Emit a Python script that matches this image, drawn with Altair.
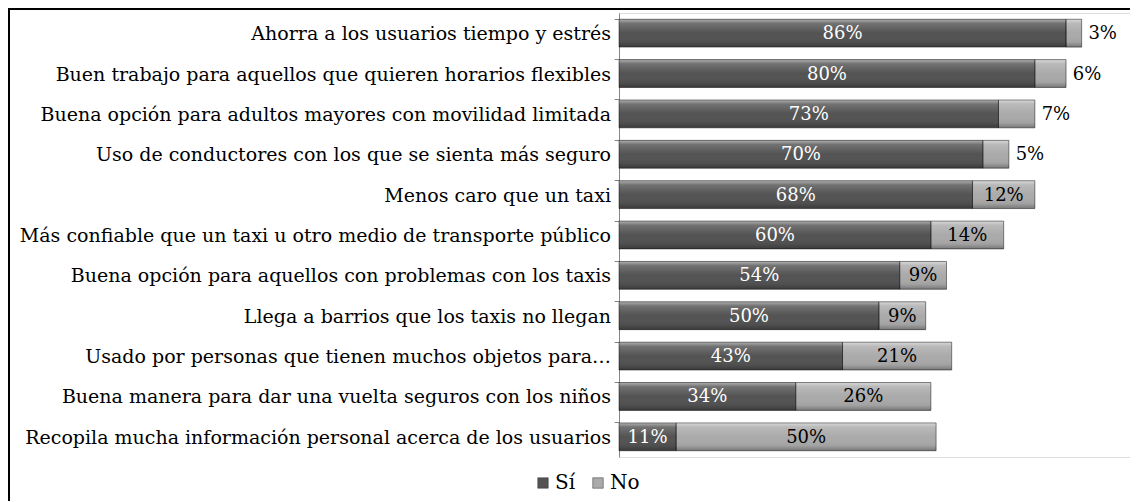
import altair as alt
import pandas as pd

categories = [
    "Ahorra a los usuarios tiempo y estrés",
    "Buen trabajo para aquellos que quieren horarios flexibles",
    "Buena opción para adultos mayores con movilidad limitada",
    "Uso de conductores con los que se sienta más seguro",
    "Menos caro que un taxi",
    "Más confiable que un taxi u otro medio de transporte público",
    "Buena opción para aquellos con problemas con los taxis",
    "Llega a barrios que los taxis no llegan",
    "Usado por personas que tienen muchos objetos para…",
    "Buena manera para dar una vuelta seguros con los niños",
    "Recopila mucha información personal acerca de los usuarios",
]
si_values = [86, 80, 73, 70, 68, 60, 54, 50, 43, 34, 11]
no_values = [3, 6, 7, 5, 12, 14, 9, 9, 21, 26, 50]
series_names = ["Sí", "No"]
series_colors = ["#535353", "#aaaaaa"]

rows = []
for c, s, n in zip(categories, si_values, no_values):
    rows.append(dict(cat=c, serie="Sí", value=s, start=0, end=s, mid=s / 2,
                     label=f"{s}%", outside=False, lx=s + 1.3))
    rows.append(dict(cat=c, serie="No", value=n, start=s, end=s + n, mid=s + n / 2,
                     label=f"{n}%", outside=n < 9, lx=s + n + 1.3))
df = pd.DataFrame(rows)

FONT = "DejaVu Serif"
W, H = 511, 444

yenc = alt.Y("cat:N", sort=categories, title=None,
             scale=alt.Scale(paddingInner=0.31, paddingOuter=0.155),
             axis=alt.Axis(labels=False, ticks=True, bandPosition=0, tickSize=5,
                           domainColor="#868686", tickColor="#868686",
                           domainWidth=1, tickWidth=1, grid=False))
xscale = alt.Scale(domain=[0, 98.3], nice=False, zero=True)

base = alt.Chart(df)

bars = base.mark_bar().encode(
    x=alt.X("start:Q", scale=xscale, axis=None),
    x2="end:Q",
    y=yenc,
    color=alt.Color("serie:N", sort=series_names,
                    scale=alt.Scale(domain=series_names, range=series_colors),
                    legend=alt.Legend(title=None, orient="none", direction="horizontal",
                                      legendX=-86, legendY=460,
                                      symbolType="square", symbolSize=110,
                                      symbolStrokeColor="#333333", symbolStrokeWidth=0.5,
                                      labelFont=FONT, labelFontSize=20, labelColor="#000000",
                                      labelLimit=100, columnPadding=12, labelOffset=2)),
)

sheen = base.mark_bar(
    fill=alt.Gradient(
        gradient="linear", x1=0, x2=0, y1=0, y2=1,
        stops=[
            alt.GradientStop(color="rgba(255,255,255,0.55)", offset=0),
            alt.GradientStop(color="rgba(255,255,255,0.18)", offset=0.15),
            alt.GradientStop(color="rgba(255,255,255,0.0)", offset=0.5),
            alt.GradientStop(color="rgba(0,0,0,0.05)", offset=0.82),
            alt.GradientStop(color="rgba(0,0,0,0.3)", offset=1),
        ],
    ),
    stroke="rgba(0,0,0,0.45)", strokeWidth=1,
).encode(
    x=alt.X("start:Q", scale=xscale, axis=None),
    x2="end:Q",
    y=alt.Y("cat:N", sort=categories),
)

inside = base.transform_filter("!datum.outside").mark_text(
    font=FONT, fontSize=18, align="center", baseline="middle", dy=1
).encode(
    x=alt.X("mid:Q", scale=xscale),
    y=alt.Y("cat:N", sort=categories),
    text="label:N",
    color=alt.condition("datum.serie == 'Sí'", alt.value("#ffffff"), alt.value("#000000")),
)

outside = base.transform_filter("datum.outside").mark_text(
    font=FONT, fontSize=18, align="left", baseline="middle", dy=1, color="#000000"
).encode(
    x=alt.X("lx:Q", scale=xscale),
    y=alt.Y("cat:N", sort=categories),
    text="label:N",
)

catdf = pd.DataFrame({"cat": categories})
cat_labels = alt.Chart(catdf).mark_text(
    font=FONT, fontSize=19, align="right", baseline="middle", dy=1, color="#000000"
).encode(
    x=alt.value(-8),
    y=alt.Y("cat:N", sort=categories),
    text="cat:N",
)

one = pd.DataFrame({"k": [0]})
top_border = alt.Chart(one).mark_rule(color="#000000", strokeWidth=2).encode(
    x=alt.value(-610), x2=alt.value(W + 10), y=alt.value(-4)
)
left_border = alt.Chart(one).mark_rule(color="#000000", strokeWidth=2).encode(
    x=alt.value(-610), y=alt.value(-5), y2=alt.value(H + 44)
)

chart = alt.layer(bars, sheen, inside, outside, cat_labels, top_border, left_border).properties(
    width=W, height=H,
    padding={"left": 611, "top": 5, "right": 0, "bottom": 44},
    autosize=alt.AutoSizeParams(type="none"),
).configure_view(stroke=None).configure(background="#ffffff")

chart.save("out.html", embed_options={"renderer": "svg", "actions": False})
